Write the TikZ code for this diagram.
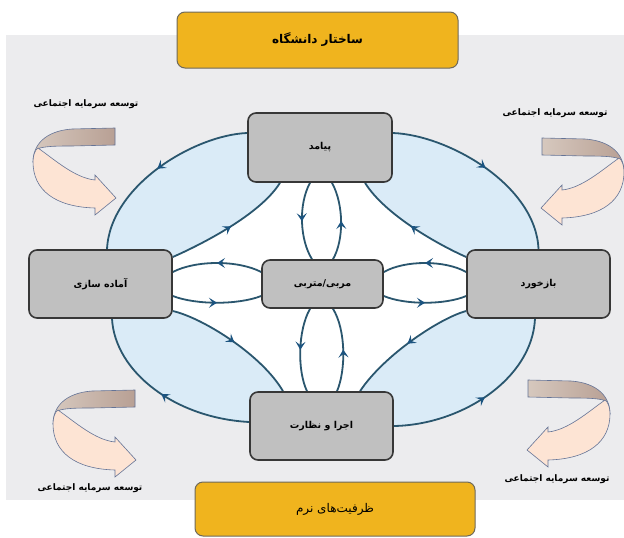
\documentclass[tikz,border=0pt]{standalone}
\usepackage{fontspec}
\usetikzlibrary{arrows.meta,decorations.markings,calc}
\newfontfamily\arabicfont[Script=Arabic]{DejaVu Sans}
\TeXXeTstate=1
\definecolor{bggray}{RGB}{236,236,238}
\definecolor{lblue}{RGB}{218,235,247}
\definecolor{linec}{RGB}{42,86,110}
\definecolor{arrowc}{RGB}{28,84,128}
\definecolor{nodefill}{RGB}{192,192,192}
\definecolor{nodeedge}{RGB}{55,55,55}
\definecolor{ybox}{RGB}{240,180,30}
\definecolor{yedge}{RGB}{110,105,90}
\definecolor{brownL}{RGB}{214,200,190}
\definecolor{brownD}{RGB}{184,160,148}
\definecolor{peach}{RGB}{253,228,212}
\definecolor{redge}{RGB}{100,115,150}
\pgfdeclarelayer{bgA}
\pgfdeclarelayer{bgB}
\pgfsetlayers{bgA,bgB,main}
\tikzset{
  box/.style={draw=nodeedge, fill=nodefill, line width=1.6pt, rounded corners=8pt, inner sep=0pt,
    font=\arabicfont\bfseries\fontsize{9.5}{11}\selectfont},
  yellowbox/.style={draw=yedge, fill=ybox, line width=1pt, rounded corners=8pt, inner sep=0pt,
    font=\arabicfont\fontsize{12}{14}\selectfont},
  lab/.style={inner sep=0pt, font=\arabicfont\bfseries\fontsize{9}{11}\selectfont},
  flow/.style={draw=linec, line width=1.8pt, postaction={decorate},
    decoration={markings, mark=at position 0.5 with {\arrow{Stealth[length=8pt,width=10pt,inset=3.5pt,color=arrowc]}}}},
  ribbon/.pic={
    \draw[left color=brownL, right color=brownD, draw=redge, line width=0.6pt] (0,0) -- (-43,1) .. controls (-70,3) and (-82,17) .. (-82,34) .. controls (-82,27) and (-79,22) .. (-75,20) .. controls (-67,18) and (-55,18) .. (-43,18) -- (0,17) -- cycle;
    \filldraw[fill=peach, draw=redge, line width=0.6pt] (-77,20) .. controls (-60,32) and (-40,50) .. (-20,52) -- (-20,47) -- (1,70) -- (-20,87) -- (-20,80) .. controls (-60,79) and (-82,62) .. (-82,34) .. controls (-82,27) and (-80,22) .. (-77,20) -- cycle;
  }
}
\begin{document}
\begin{tikzpicture}[x=1pt,y=-1pt]
\useasboundingbox (0,0) rectangle (624,538);
\begin{pgfonlayer}{bgA}
  \fill[bggray] (6,35) rectangle (624,500);
\end{pgfonlayer}

% main nodes
\node[box, minimum width=144pt, minimum height=69pt] (pey) at (320,147.5) {\beginR پیامد\endR};
\node[box, minimum width=143pt, minimum height=68pt] (ama) at (100.5,284) {\beginR آماده سازی\endR};
\node[box, minimum width=121pt, minimum height=48pt] (mor) at (322.5,284) {\beginR مربی/متربی\endR};
\node[box, minimum width=143pt, minimum height=68pt] (baz) at (538.5,284) {\beginR بازخورد\endR};
\node[box, minimum width=143pt, minimum height=68pt] (ejr) at (321.5,426) {\beginR اجرا و نظارت\endR};

\node[yellowbox, minimum width=281pt, minimum height=56pt] (ttl) at (317.5,40) {\bfseries\beginR ساختار دانشگاه\endR};
\node[yellowbox, minimum width=280pt, minimum height=54pt] (cap) at (335,509) {\beginR ظرفیت‌های نرم\endR};

% ribbons and labels
\pic at (115,128) {ribbon};
\pic[xscale=-1] at (542,138) {ribbon};
\pic at (135,390) {ribbon};
\pic[xscale=-1] at (528,380) {ribbon};
\node[lab] (l1) at (86,104) {\beginR توسعه سرمایه اجتماعی\endR};
\node[lab] (l2) at (555,113) {\beginR توسعه سرمایه اجتماعی\endR};
\node[lab] (l3) at (90,488) {\beginR توسعه سرمایه اجتماعی\endR};
\node[lab] (l4) at (557,479) {\beginR توسعه سرمایه اجتماعی\endR};

\begin{pgfonlayer}{bgB}
  % blue lens region
  \fill[lblue] ($(pey.west)+(0,-14.5)$) .. controls (195,135) and (110,185) .. ($(ama.north)+(6.5,0)$)
     -- ($(ama.south)+(11.5,0)$) .. controls (115,372) and (175,418) .. ($(ejr.west)+(0,-4)$)
     -- (ejr.east) .. controls (460,425) and (532,380) .. ($(baz.south)+(-3.5,0)$)
     -- (baz.north) .. controls (536,185) and (448,135) .. ($(pey.east)+(0,-14.5)$) -- cycle;
  % white inner region
  \fill[white] ($(ama.east)+(0,-27)$) .. controls (200,245) and (260,215) .. ($(pey.south)+(-40,0)$)
     -- ($(pey.south)+(45,0)$) .. controls (385,215) and (439,245) .. ($(baz.west)+(0,-27)$)
     -- ($(baz.west)+(0,27)$) .. controls (440,318) and (384,355) .. ($(ejr.north)+(38.5,0)$)
     -- ($(ejr.north)+(-38.5,0)$) .. controls (262,355) and (203,318) .. ($(ama.east)+(0,27)$) -- cycle;
  % outer arcs
  \draw[flow] ($(pey.west)+(0,-14.5)$) .. controls (195,135) and (110,185) .. ($(ama.north)+(6.5,0)$);
  \draw[flow] ($(pey.east)+(0,-14.5)$) .. controls (448,135) and (536,185) .. (baz.north);
  \draw[flow] ($(ejr.west)+(0,-4)$) .. controls (175,418) and (115,372) .. ($(ama.south)+(11.5,0)$);
  \draw[flow] (ejr.east) .. controls (460,425) and (532,380) .. ($(baz.south)+(-3.5,0)$);
  % inner arcs
  \draw[flow] ($(ama.east)+(0,-27)$) .. controls (200,245) and (260,215) .. ($(pey.south)+(-40,0)$);
  \draw[flow] ($(baz.west)+(0,-27)$) .. controls (439,245) and (385,215) .. ($(pey.south)+(45,0)$);
  \draw[flow] ($(ama.east)+(0,27)$) .. controls (203,318) and (262,355) .. ($(ejr.north)+(-38.5,0)$);
  \draw[flow] ($(baz.west)+(0,27)$) .. controls (440,318) and (384,355) .. ($(ejr.north)+(38.5,0)$);
  % centre-left pair
  \draw[flow] ($(mor.west)+(0,-12)$) .. controls (238,260) and (196,260) .. ($(ama.east)+(0,-12)$);
  \draw[flow] ($(ama.east)+(0,12)$) .. controls (196,305) and (238,305) .. ($(mor.west)+(0,12)$);
  % centre-right pair
  \draw[flow] ($(baz.west)+(0,-12)$) .. controls (445,260) and (405,260) .. ($(mor.east)+(0,-12)$);
  \draw[flow] ($(mor.east)+(0,12)$) .. controls (405,305) and (445,305) .. ($(baz.west)+(0,12)$);
  % centre-top pair
  \draw[flow] ($(pey.south)+(-10,0)$) .. controls (298,205) and (300,240) .. ($(mor.north)+(-10.5,0)$);
  \draw[flow] ($(mor.north)+(10.5,0)$) .. controls (344,240) and (344,205) .. ($(pey.south)+(12,0)$);
  % centre-bottom pair
  \draw[flow] ($(mor.south)+(-12.5,0)$) .. controls (298,330) and (297,370) .. ($(ejr.north)+(-14.5,0)$);
  \draw[flow] ($(ejr.north)+(15.5,0)$) .. controls (346,370) and (346,330) .. ($(mor.south)+(10.5,0)$);
\end{pgfonlayer}
\end{tikzpicture}
\end{document}
